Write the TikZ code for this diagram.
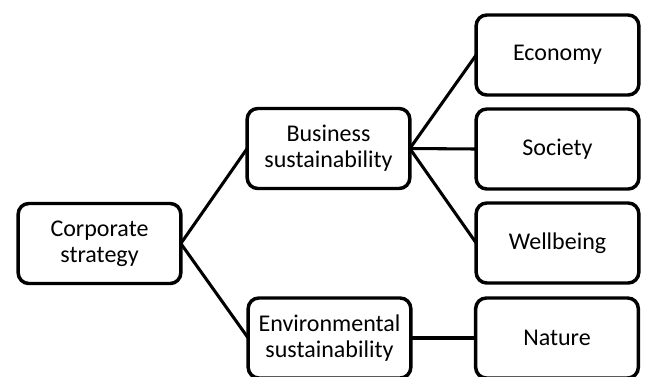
\documentclass[tikz,border=0pt]{standalone}
\usepackage{fontspec}
\setmainfont{Carlito}
\begin{document}
\begin{tikzpicture}[x=0.75pt,y=-0.75pt,
  box/.style={draw=black,line width=2.6pt,rounded corners=8pt,fill=white,
    minimum width=122pt,minimum height=60pt,align=center,inner sep=2pt,
    font=\fontsize{18}{19.5}\selectfont,outer sep=0pt},
  link/.style={line width=2.3pt}]
\useasboundingbox (0,0) rectangle (647,376);
\clip (0,0) rectangle (647,376);
\node[box] (corp) at (99.5,243.5) {Corporate\\strategy};
\node[box] (bus) at (328.5,148.5) {Business\\sustainability};
\node[box] (env) at (329.5,338) {Environmental\\sustainability};
\node[box] (eco) at (557.5,55) {Economy};
\node[box] (soc) at (557.5,149) {Society};
\node[box] (wel) at (557.5,243) {Wellbeing};
\node[box] (nat) at (557,338) {Nature};
\draw[link] (corp.east) -- (bus.west);
\draw[link] (corp.east) -- (env.west);
\draw[link] (bus.east) -- (eco.west);
\draw[link] (bus.east) -- (soc.west);
\draw[link] (bus.east) -- (wel.west);
\draw[link] (env.east) -- (nat.west);
\end{tikzpicture}
\end{document}
